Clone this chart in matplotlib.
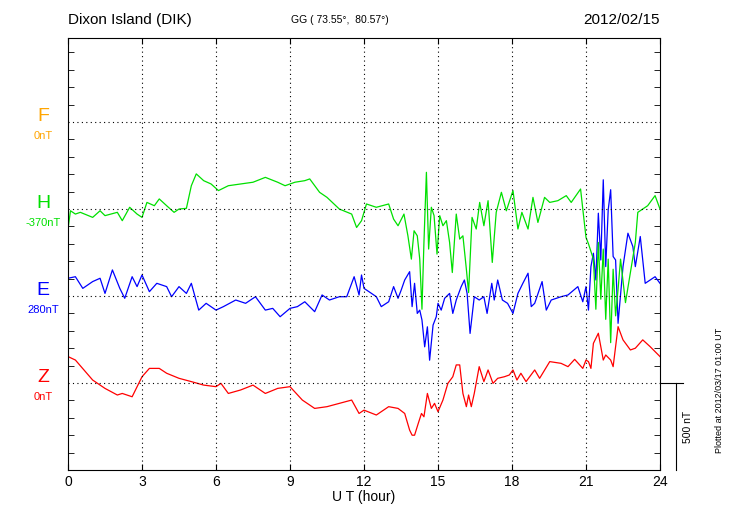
import matplotlib
matplotlib.use("Agg")
import matplotlib.pyplot as plt
import numpy as np

plt.rcParams['font.family'] = ['Liberation Sans', 'DejaVu Sans']

# deviations in nT
h_t = [0, 0.1, 0.3, 0.5, 1, 1.3, 1.5, 2, 2.2, 2.5, 2.8, 3, 3.2, 3.5, 3.7, 4, 4.3, 4.5, 4.8, 5.0,
       5.2, 5.5, 5.8, 6.1, 6.5, 7, 7.5, 8, 8.5, 8.8, 9.2, 9.6, 9.8, 10.2, 10.5, 11, 11.5, 11.7, 11.9, 12,
       12.1, 12.5, 13, 13.2, 13.38, 13.62, 13.78, 13.92, 14.03, 14.16, 14.26, 14.35, 14.43, 14.53,
       14.62, 14.73, 14.84, 14.96, 15.07, 15.2, 15.34, 15.47, 15.58, 15.74, 15.88, 16.01, 16.15, 16.24,
       16.38, 16.55, 16.69, 16.86, 17.03, 17.2, 17.36, 17.57, 17.77, 18.04, 18.24, 18.4, 18.65, 18.85,
       19.05, 19.32, 19.53, 19.86, 20.2, 20.4, 20.78, 20.87, 21.0, 21.1,
       21.3, 21.4, 21.5, 21.6, 21.7, 21.8, 21.9,
       22.0, 22.1, 22.2, 22.3, 22.4, 22.6, 22.8, 23.0, 23.1, 23.3, 23.5, 23.8, 24.0]
h_v = [-115, -10, -29, -19, -48, -10, -38, -19, -67, 10, -29, -48, 38, 19, 58, 19, -19, 0, 4, 134,
       202, 163, 144, 106, 134, 144, 154, 182, 154, 134, 154, 163, 173, 96, 67, 0, -29, -106, -67, -19,
       29, 10, 29, -58, -96, -29, -154, -288, -125, -154, -288, -576, -192, 211,
       -230, 10, -38, -259, -38, -96, -67, -192, -365, -29, -173, -154, -346, -480,
       -48, -115, 38, -96, 48, -307, -19, 96, -10, 106, -115, -19, -115, 67,
       -77, 67, 38, 48, 77, 38, 115, 0, -163, -200,
       -288, -576, -192, -518, -230, -634, -288,
       -768, -346, -614, -461, -288, -538, -365, -192, -19, 0, 19, 77, 0]

e_t = [0, 0.3, 0.6, 1, 1.3, 1.5, 1.8, 2.1, 2.3, 2.6, 2.8, 3, 3.3, 3.6, 4, 4.2, 4.5, 4.8, 5.0, 5.3,
       5.6, 6, 6.3, 6.8, 7.2, 7.6, 8, 8.3, 8.6, 9, 9.3, 9.6, 10, 10.3, 10.6, 11, 11.3, 11.6, 11.8, 11.9, 12,
       12.2, 12.5, 12.7, 13, 13.2, 13.38, 13.51, 13.65, 13.85, 13.95, 14.05, 14.16, 14.26, 14.35, 14.46,
       14.57, 14.66, 14.8, 14.93, 15.0, 15.13, 15.27, 15.47, 15.6, 15.74, 15.94, 16.07, 16.18, 16.3,
       16.47, 16.67, 16.86, 16.99, 17.18, 17.28, 17.42, 17.61, 17.82, 18.04, 18.24, 18.44, 18.65, 18.78,
       18.92, 19.22, 19.39, 19.59, 19.99, 20.27, 20.67, 20.87, 21.0, 21.1, 21.2, 21.3, 21.4, 21.5,
       21.6, 21.7, 21.8, 21.9, 22.0, 22.1, 22.2, 22.3, 22.5, 22.7, 22.9, 23.0, 23.2, 23.4, 23.6, 23.8, 24.0]
e_v = [102, 111, 44, 83, 102, 15, 150, 44, -13, 111, 54, 121, 25, 73, 54, -4, 54, 15, 73, -81,
       -42, -81, -61, -23, -42, -4, -81, -71, -119, -71, -61, -33, -90, 6, -23, -4, -4, 111, 6, 121, 44,
       25, -4, -61, -33, 54, -13, 35, 92, 140, -61, 73, -100, -81, -138, -292,
       -177, -369, -167, -119, -42, -81, -13, 15, -100, -23, 54, 92, 15, -215,
       -4, -23, -4, -100, 73, -23, 92, -23, -42, -100, 15, 73, 131, -61,
       -42, 83, -81, -23, -4, 6, 54, -33, 54, -81, 169, 246, 92, 476,
       207, 668, 169, 495, 611, 227, 207, -157, 169, 361, 284, 169, 342, 73, 92, 111, 73]

z_t = [0, 0.3, 1, 1.5, 2, 2.2, 2.6, 3, 3.3, 3.7, 4, 4.5, 5, 5.5, 6, 6.2, 6.5, 7, 7.5, 8, 8.5, 9,
       9.5, 10, 10.5, 11, 11.5, 11.8, 12, 12.5, 13, 13.38, 13.65, 13.85, 13.95, 14.05, 14.2, 14.33,
       14.43, 14.57, 14.73, 14.86, 15.0, 15.2, 15.4, 15.6, 15.74, 15.88, 16.01, 16.15, 16.24, 16.35,
       16.47, 16.67, 16.86, 17.03, 17.23, 17.42, 17.69, 17.89, 18.04, 18.2, 18.36, 18.57, 18.92, 19.12,
       19.53, 19.99, 20.27, 20.54, 20.87, 21.0, 21.1, 21.2, 21.3, 21.5, 21.7, 21.8, 22.0, 22.1, 22.3,
       22.5, 22.8, 23.0, 23.3, 23.6, 24.0]
z_v = [152, 132, 17, -31, -69, -60, -79, 36, 84, 84, 56, 27, 8, -12, -21, -2, -60, -40, -12, -60, -31, -21,
       -98, -146, -136, -117, -98, -175, -156, -184, -136, -146, -175, -271, -300, -300, -232, -175,
       -194, -60, -146, -117, -165, -98, -2, 36, 104, 104, -60, -136, -69, -136,
       -60, 94, 8, 75, -2, 27, 36, 46, 75, 17, 56, 8, 75, 27,
       123, 113, 94, 136, 84, 132, 123, 84, 228, 286, 132, 161, 132, 94, 324,
       248, 190, 200, 248, 209, 152]

names = ['F', 'H', 'E', 'Z']
offsets = ['0nT', '-370nT', '280nT', '0nT']
colors = ['#ffa500', '#00e000', '#0000ff', '#ff0000']
bases = [1500, 1000, 500, 0]

fig = plt.figure(figsize=(7.3, 5.2), dpi=100)
ax = fig.add_axes([68 / 730, 50 / 520, 592 / 730, 432 / 520])

ax.plot(np.array(z_t), np.array(z_v) + bases[3], color=colors[3], lw=0.9)
ax.plot(np.array(e_t), np.array(e_v) + bases[2], color=colors[2], lw=0.9)
ax.plot(np.array(h_t), np.array(h_v) + bases[1], color=colors[1], lw=0.9)

ax.set_xlim(0, 24)
ax.set_ylim(-500, 1983)
ax.set_xticks(range(0, 25, 3))
ax.set_xticklabels([str(x) for x in range(0, 25, 3)], fontsize=10)
ax.set_yticks(bases)
ax.set_yticklabels([])
ax.set_yticks(np.arange(-500, 1983, 100), minor=True)
ax.tick_params(axis='y', which='major', length=0)
ax.tick_params(axis='y', which='minor', direction='in', length=4, right=True)
ax.tick_params(axis='x', direction='in', length=4, top=True)
for x in range(3, 24, 3):
    ax.axvline(x, color='black', ls=(0, (1, 3)), lw=0.8)
for b in bases:
    ax.axhline(b, color='black', ls=(0, (1, 3)), lw=0.8)
ax.set_xlabel('U T (hour)', fontsize=10, labelpad=1)

for n, o, c, b in zip(names, offsets, colors, bases):
    ax.text(-1.0, b + 29, n, color=c, fontsize=14, ha='center', va='center')
    ax.text(-1.0, b - 80, o, color=c, fontsize=8, ha='center', va='center')

fig.text(68 / 730, 1 - 20 / 520, 'Dixon Island (DIK)', fontsize=11, va='center')
fig.text(340 / 730, 1 - 20 / 520, 'GG ( 73.55\u00b0,  80.57\u00b0)', fontsize=7.5, ha='center', va='center')
fig.text(660 / 730, 1 - 20 / 520, '2012/02/15', fontsize=11, ha='right', va='center')

# 500 nT scale bar
ax.plot([24, 24.95], [0, 0], color='black', lw=0.8, clip_on=False)
ax.plot([24.65, 24.65], [0, -500], color='black', lw=0.8, clip_on=False)
ax.text(25.15, -250, '500 nT', rotation=90, fontsize=7.5, ha='center', va='center')
fig.text(720 / 730, 1 - 390 / 520, 'Plotted at 2012/03/17 01:00 UT', rotation=90,
         fontsize=6.5, ha='center', va='center')

fig.savefig('out.png', dpi=100)
